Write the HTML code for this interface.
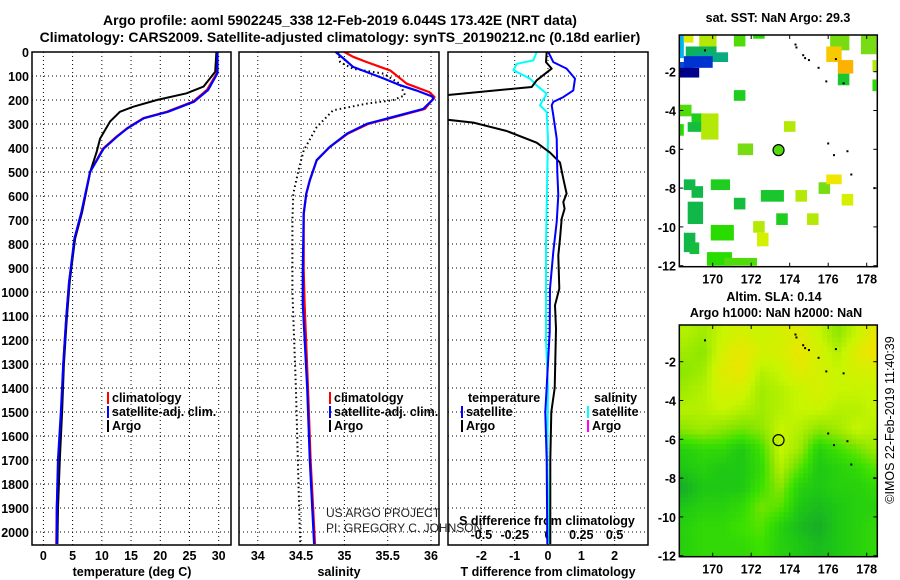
<!DOCTYPE html>
<html><head><meta charset="utf-8"><style>
html,body{margin:0;padding:0;background:#fff;}
svg{display:block;font-family:"Liberation Sans",sans-serif;}
.b{font-weight:bold;font-size:12.5px;}
</style></head><body>
<svg id="fig" width="900" height="580" viewBox="0 0 900 580" xmlns="http://www.w3.org/2000/svg">
<text x="340" y="25" text-anchor="middle" font-size="14" font-weight="bold">Argo profile: aoml 5902245_338 12-Feb-2019 6.044S 173.42E (NRT data)</text>
<text x="340" y="42" text-anchor="middle" font-size="14" font-weight="bold">Climatology: CARS2009. Satellite-adjusted climatology: synTS_20190212.nc (0.18d earlier)</text>
<text x="778" y="22" text-anchor="middle" class="b">sat. SST: NaN Argo: 29.3</text>
<text x="774" y="301" text-anchor="middle" class="b">Altim. SLA: 0.14</text>
<text x="776" y="317" text-anchor="middle" class="b">Argo h1000: NaN h2000: NaN</text>
<text transform="translate(894,420) rotate(-90)" text-anchor="middle" font-size="12.5">©IMOS 22-Feb-2019 11:40:39</text>
<text x="326" y="517" font-size="12" fill="#222">US ARGO PROJECT</text>
<text x="326" y="532" font-size="12" fill="#222">PI: GREGORY C. JOHNSON</text>
</svg>
<script>
// ---------- data ----------
const depthTicks=[0,100,200,300,400,500,600,700,800,900,1000,1100,1200,1300,1400,1500,1600,1700,1800,1900,2000];
const tempTicks=[0,5,10,15,20,25,30];
const salTicks=[34,34.5,35,35.5,36];
const dTTicks=[-2,-1,0,1,2];
const dSTicks=[-0.5,-0.25,0,0.25,0.5];
const dSTickLabels=["-0.5","-0.25","0","0.25","0.5"];
const tArgoDepth=[0,82,144,172,200,228,249,290,361,417,500,667,778,958,1111,1300,1500,1700,1900,2050];
const tArgoVal=[29.6,29.4,27.4,24.5,19.4,15.4,13.1,11.4,9.7,9.1,8.0,6.6,5.4,4.5,4.0,3.5,3.2,2.8,2.5,2.4];
const tClimDepth=[0,88,158,207,249,276,318,353,403,500,667,778,958,1111,1300,1500,1700,1900,2050];
const tClimVal=[29.7,29.7,28.0,25.6,21.1,17.1,14.3,12.5,10.2,8.0,6.6,5.4,4.4,3.9,3.4,3.1,2.6,2.3,2.2];
const tSatVal=[29.8,29.8,28.2,25.8,21.3,17.2,14.4,12.6,10.3,8.0,6.5,5.3,4.4,3.9,3.4,3.0,2.5,2.3,2.3];
const sArgoDepth=[0,42,70,90,132,180,201,215,243,313,410,493,590,700,1000,1400,1800,2050];
const sArgoVal=[34.93,34.95,35.10,35.45,35.64,35.70,35.56,35.26,34.87,34.68,34.53,34.47,34.41,34.40,34.40,34.44,34.47,34.49];
const sClimDepth=[0,20,42,77,132,167,188,237,271,299,340,396,451,535,590,674,908,1050,1400,1700,2050];
const sClimVal=[35.00,35.10,35.26,35.53,35.72,35.98,36.04,35.93,35.58,35.28,35.04,34.83,34.68,34.60,34.56,34.53,34.53,34.54,34.58,34.61,34.66];
const sSatDepth=[0,27,62,110,138,160,185,195,237,271,299,340,396,451,535,590,674,908,1050,1400,1700,2050];
const sSatVal=[34.90,34.99,35.10,35.45,35.64,35.83,36.01,36.03,35.91,35.56,35.26,35.03,34.83,34.68,34.60,34.56,34.53,34.52,34.52,34.57,34.60,34.65];
const dTArgoDepth=[0,42,69,118,146,186,230,275,294,329,378,419,461,528,590,625,653,694,778,847,986,1055,1153,1400,1500,1700,2050];
const dTArgoVal=[-0.04,-0.06,0.11,-0.34,-0.49,-3.5,-5,-3.5,-2.24,-1.24,-0.34,0.06,0.36,0.46,0.56,0.46,0.5,0.41,0.36,0.31,0.34,0.21,0.24,0.2,0.1,0.07,0.07];
const dTSatDepth=[0,42,69,111,160,188,208,222,264,361,500,597,708,833,986,1167,1500,1700,2050];
const dTSatVal=[0.01,0.16,0.56,0.81,0.76,0.46,0.16,0.11,0.16,0.26,0.28,0.31,0.26,0.16,0.06,0.05,-0.08,-0.04,-0.02];
const dSSatDepth=[0,35,49,76,111,139,174,222,250,361,500,800,1200,1400,1700,2050];
const dSSatVal=[-0.085,-0.11,-0.235,-0.26,-0.135,-0.085,-0.01,-0.06,-0.01,0,-0.005,-0.015,-0.015,0,-0.005,0.01];
const lonTicks=[170,172,174,176,178];
const latTicks=[-2,-4,-6,-8,-10,-12];
// SST cells: lon west, lat north, lon east, lat south, SST
const sstW=[171.1,171.1,172.1,173.7,168.27,168.27,168.9,169.4,168.7,171.3,168.5,168.9,169.9,172.5,171.1,174.3,173.3,174.9,175.5,175.9,176.7,168.7,172.1,172.3,169.9,168.5,168.8,169.7,170.6,176.1,175.9,176.5,176.5,177.7,178.3,178.3,168.27,168.5,169.3,168.6,169.0,168.27,168.5,168.27];
const sstN=[-2.95,-0.1,-0.1,-4.55,-3.7,-4.7,-4.15,-4.15,-4.6,-5.7,-7.55,-7.9,-7.55,-8.1,-8.5,-8.1,-9.3,-9.3,-7.7,-7.3,-8.3,-8.7,-9.7,-10.3,-9.9,-10.3,-10.8,-11.3,-11.6,-0.1,-0.7,-1.4,-2.1,-0.1,-1.4,-2.4,-0.1,-0.1,-0.1,-0.7,-1.0,-1.5,-1.2,-1.8];
const sstE=[171.7,171.7,172.7,174.3,168.9,168.5,169.5,170.3,169.4,172.1,169.1,169.5,170.9,173.7,171.7,174.9,173.9,175.5,176.1,176.7,177.3,169.5,172.7,172.9,171.1,169.1,169.3,171.0,172.3,177.1,176.7,177.3,177.1,178.5,178.5,178.5,168.5,169.0,170.2,170.2,170.8,169.0,170.0,169.3];
const sstS=[-3.5,-0.7,-0.3,-5.1,-4.3,-5.3,-5.0,-5.5,-5.1,-6.3,-8.1,-8.5,-8.1,-8.7,-9.1,-8.7,-9.9,-9.9,-8.3,-7.8,-8.9,-9.85,-10.3,-11.0,-10.7,-11.3,-11.4,-12,-12,-0.9,-1.5,-2.1,-2.7,-1.1,-2.0,-3.0,-1.3,-0.5,-0.7,-1.3,-1.5,-2.3,-1.8,-2.3];
const sstV=[29.1,29.3,29.2,29.6,29.3,29.2,29.1,29.6,29.0,29.4,28.9,28.9,29.1,29.05,29.0,29.6,29.1,29.6,29.4,30.0,29.7,28.9,29.6,29.7,29.2,28.9,29.0,29.2,29.3,29.4,30.2,30.35,29.05,29.4,29.6,29.2,28.2,29.8,29.6,28.8,28.6,27.6,27.4,26.9];
// SLA grid
const slaLon=[168.5,169.5,170.5,171.5,172.5,173.5,174.5,175.5,176.5,177.5,178.5];
const slaLat=[-0.5,-1.5,-2.5,-3.5,-4.5,-5.5,-6.5,-7.5,-8.5,-9.5,-10.5,-11.5];
const slaVal=[
[.13,.12,.14,.15,.14,.15,.16,.14,.11,.14,.17],
[.12,.11,.15,.17,.15,.15,.17,.15,.13,.16,.18],
[.11,.12,.16,.17,.13,.14,.16,.15,.14,.15,.15],
[.12,.13,.15,.15,.12,.13,.14,.15,.14,.14,.14],
[.13,.13,.14,.13,.12,.13,.14,.14,.13,.13,.14],
[.11,.12,.11,.10,.11,.14,.13,.11,.12,.14,.13],
[.06,.07,.07,.05,.08,.14,.12,.06,.08,.10,.12],
[.05,.06,.05,.05,.07,.13,.09,.05,.06,.07,.09],
[.03,.05,.05,.05,.08,.11,.06,.05,.06,.06,.07],
[.05,.06,.06,.07,.10,.09,.05,.04,.05,.06,.06],
[.06,.07,.07,.08,.09,.06,.04,.03,.05,.06,.07],
[.06,.07,.07,.07,.08,.06,.05,.04,.05,.06,.07]];
const argoLon=173.42, argoLat=-6.044;
const coastLon=[174.3,174.35,174.7,174.8,175.0,175.5,175.9,176.4,176.8,176.0,176.3,177.0,177.2,178.4,169.6];
const coastLat=[-0.6,-0.75,-1.15,-1.3,-1.4,-1.8,-2.5,-1.35,-2.6,-5.7,-6.3,-6.1,-7.3,-8.0,-0.9];

// ---------- helpers ----------
const NS="http://www.w3.org/2000/svg";
const svg=document.getElementById('fig');
function mk(tag,attrs,parent){const e=document.createElementNS(NS,tag);for(const k in attrs)e.setAttribute(k,attrs[k]);(parent||svg).appendChild(e);return e;}
const PT=52,PB=545;
const yD=d=>PT+d*0.24;
const xT=t=>43.4+t*5.843;
const xS=s=>257.8+(s-34)*86.6;
const xDT=t=>548+t*33.3;
const xDS=s=>548+s*133.2;
const panels=[{x0:32,x1:231,id:'temp'},{x0:239,x1:439,id:'sal'},{x0:448,x1:648,id:'diff'}];
const defs=mk('defs',{});
panels.forEach(p=>{const c=mk('clipPath',{id:'clip-'+p.id},defs);mk('rect',{x:p.x0,y:PT,width:p.x1-p.x0,height:PB-PT},c);});

// grids
function hgrid(p){depthTicks.forEach(d=>{const l=mk('line',{x1:p.x0,x2:p.x1,y1:yD(d),y2:yD(d),stroke:'#000','stroke-width':1,'stroke-dasharray':'1 3'});

});}
function vgrid(p,ticks,fx,labels,ly,nm){ticks.forEach((t,i)=>{const x=fx(t);
const l=mk('line',{x1:x,x2:x,y1:PT,y2:PB,stroke:'#000','stroke-width':1,'stroke-dasharray':'1 3'});


const tx=mk('text',{x:x,y:ly,'text-anchor':'middle',class:'b'});tx.textContent=labels?labels[i]:String(t);

});}
panels.forEach(hgrid);
vgrid(panels[0],tempTicks,xT,null,560,'temperature');
vgrid(panels[1],salTicks,xS,null,560,'salinity');
vgrid(panels[2],dTTicks,xDT,null,560,'t-diff');
dSTicks.forEach((t,i)=>{const tx=mk('text',{x:xDS(t),y:539,'text-anchor':'middle',class:'b'});tx.textContent=dSTickLabels[i];

});
depthTicks.forEach(d=>{const tx=mk('text',{x:29,y:yD(d)+5,'text-anchor':'end',class:'b'});tx.textContent=String(d);

});
[['temperature (deg C)',132,'temp-x-axis-title'],['salinity',339,'sal-x-axis-title'],['T difference from climatology',548,'tdiff-x-axis-title']].forEach(a=>{
const tx=mk('text',{x:a[1],y:576,'text-anchor':'middle',class:'b'});tx.textContent=a[0];

});
{const tx=mk('text',{x:547,y:525,'text-anchor':'middle',class:'b'});tx.textContent='S difference from climatology';

}

// lines
function line(depths,vals,fx,col,clip,nm,w,dash){const pts=depths.map((d,i)=>fx(vals[i]).toFixed(1)+','+yD(d).toFixed(1)).join(' ');
const a={points:pts,fill:'none',stroke:col,'stroke-width':w||2,'clip-path':'url(#clip-'+clip+')','stroke-linejoin':'round'};if(dash)a['stroke-dasharray']=dash;
const e=mk('polyline',a);

}
line(tClimDepth,tClimVal,xT,'#f00','temp','temp-climatology-line',2.2);
line(tArgoDepth,tArgoVal,xT,'#000','temp','temp-argo-line',2);
line(tClimDepth,tSatVal,xT,'#00f','temp','temp-satellite-line',2.2);
line(sArgoDepth,sArgoVal,xS,'#000','sal','sal-argo-line',2,'1.5 3');
line(sClimDepth,sClimVal,xS,'#f00','sal','sal-climatology-line',2.2);
line(sSatDepth,sSatVal,xS,'#00f','sal','sal-satellite-line',2.2);
line(dSSatDepth,dSSatVal,xDS,'#0ff','diff','sdiff-satellite-line',2);
line(dTArgoDepth,dTArgoVal,xDT,'#000','diff','tdiff-argo-line',2);
line(dTSatDepth,dTSatVal,xDT,'#00f','diff','tdiff-satellite-line',2);

// frames
panels.forEach(p=>{const r=mk('rect',{x:p.x0,y:PT,width:p.x1-p.x0,height:PB-PT,fill:'none',stroke:'#000','stroke-width':1.5});

});

// legends
function legend(x,y,col,label,nm){const m=mk('rect',{x:x,y:y-10,width:2,height:12,fill:col});


if(label){const t=mk('text',{x:x+5,y:y,class:'b'});t.textContent=label;

}}
legend(107,402,'#f00','climatology','temp-climatology');
legend(107,416,'#00f','satellite-adj. clim.','temp-satellite');
legend(107,430,'#000','Argo','temp-argo');
legend(329,402,'#f00','climatology','sal-climatology');
legend(329,416,'#00f','satellite-adj. clim.','sal-satellite');
legend(329,430,'#000','Argo','sal-argo');
{const t=mk('text',{x:468,y:402,class:'b'});t.textContent='temperature';


const s=mk('text',{x:594,y:402,class:'b'});s.textContent='salinity';

}
legend(461,416,'#00f','satellite','tdiff-satellite');
legend(461,430,'#000','Argo','tdiff-argo');
legend(587,416,'#0ff','satellite','sdiff-satellite');
legend(587,430,'#f0f','Argo','sdiff-argo');

// ---------- maps ----------
const MX0=679.3,MX1=877.3;
const mxL=lon=>712.7+(lon-170)*19.25;
function makeMap(top,nm){const yL=lat=>top+36.7+(-2-lat)*19.4;const bottom=top+231.7;
const c=mk('clipPath',{id:'clip-'+nm},defs);mk('rect',{x:MX0,y:top,width:MX1-MX0,height:bottom-top},c);
const g=mk('g',{'clip-path':'url(#clip-'+nm+')'});


return {yL,bottom,g};}
function sstCol(v){const st=[[26.9,[0,0,140]],[27.5,[0,60,220]],[28.2,[0,180,240]],[28.7,[10,170,100]],[29.0,[20,190,60]],[29.2,[40,220,0]],[29.4,[120,220,20]],[29.7,[210,240,0]],[30.0,[240,230,0]],[30.4,[255,170,0]]];
if(v<=st[0][0])return 'rgb('+st[0][1]+')';for(let i=1;i<st.length;i++){if(v<=st[i][0]){const f=(v-st[i-1][0])/(st[i][0]-st[i-1][0]);return 'rgb('+st[i][1].map((c,j)=>Math.round(st[i-1][1][j]+f*(c-st[i-1][1][j]))).join(',')+')';}}return 'rgb('+st[st.length-1][1]+')';}
function slaCol(v){const st=[[0.02,[20,160,50]],[0.05,[30,200,20]],[0.08,[60,225,0]],[0.11,[140,230,0]],[0.14,[200,245,0]],[0.18,[245,225,0]]];
if(v<=st[0][0])return 'rgb('+st[0][1]+')';for(let i=1;i<st.length;i++){if(v<=st[i][0]){const f=(v-st[i-1][0])/(st[i][0]-st[i-1][0]);return 'rgb('+st[i][1].map((c,j)=>Math.round(st[i-1][1][j]+f*(c-st[i-1][1][j]))).join(',')+')';}}return 'rgb('+st[st.length-1][1]+')';}
function mapAxes(m,top,nm){
const r=mk('rect',{x:MX0,y:top,width:MX1-MX0,height:m.bottom-top,fill:'none',stroke:'#000','stroke-width':1.5});


lonTicks.forEach(l=>{const x=mxL(l);mk('line',{x1:x,x2:x,y1:m.bottom,y2:m.bottom-4,stroke:'#000'});mk('line',{x1:x,x2:x,y1:top,y2:top+4,stroke:'#000'});
const t=mk('text',{x:x,y:m.bottom+17,'text-anchor':'middle',class:'b'});t.textContent=String(l);

});
latTicks.forEach(l=>{const y=m.yL(l);mk('line',{x1:MX0,x2:MX0+4,y1:y,y2:y,stroke:'#000'});mk('line',{x1:MX1,x2:MX1-4,y1:y,y2:y,stroke:'#000'});
const t=mk('text',{x:676,y:y+5,'text-anchor':'end',class:'b'});t.textContent=String(l);

});
coastLon.forEach((lo,i)=>{const d=mk('rect',{x:mxL(lo)-1,y:m.yL(coastLat[i])-1,width:2,height:2,fill:'#000'},m.g);

});
const c=mk('circle',{cx:mxL(argoLon),cy:m.yL(argoLat),r:5.5,fill:nm==='sst-map'?sstCol(29.3):'none',stroke:'#000','stroke-width':1.2});

}
// SST map
const m1=makeMap(35,'sst-map');
sstV.forEach((v,i)=>{const x=mxL(sstW[i]),y=m1.yL(sstN[i]);
const r=mk('rect',{x:x,y:y,width:mxL(sstE[i])-x,height:m1.yL(sstS[i])-y,fill:sstCol(v)},m1.g);

});
mapAxes(m1,35,'sst-map');
// SLA map
const m2=makeMap(325,'sla-map');
function slaAt(lon,lat){let fi=(lon-slaLon[0]);let fj=(slaLat[0]-lat);fi=Math.max(0,Math.min(slaLon.length-1.001,fi));fj=Math.max(0,Math.min(slaLat.length-1.001,fj));
const i=Math.floor(fi),j=Math.floor(fj),a=fi-i,b=fj-j;return slaVal[j][i]*(1-a)*(1-b)+slaVal[j][i+1]*a*(1-b)+slaVal[j+1][i]*(1-a)*b+slaVal[j+1][i+1]*a*b;}
for(let lon=168.2;lon<178.6;lon+=0.25){for(let lat=0;lat>-12.2;lat-=0.25){
const x=mxL(lon),y=m2.yL(lat);
const r=mk('rect',{x:x.toFixed(1),y:y.toFixed(1),width:5.3,height:5.3,fill:slaCol(slaAt(lon+0.125,lat-0.125))},m2.g);

}}
mapAxes(m2,325,'sla-map');
</script>
</body></html>
